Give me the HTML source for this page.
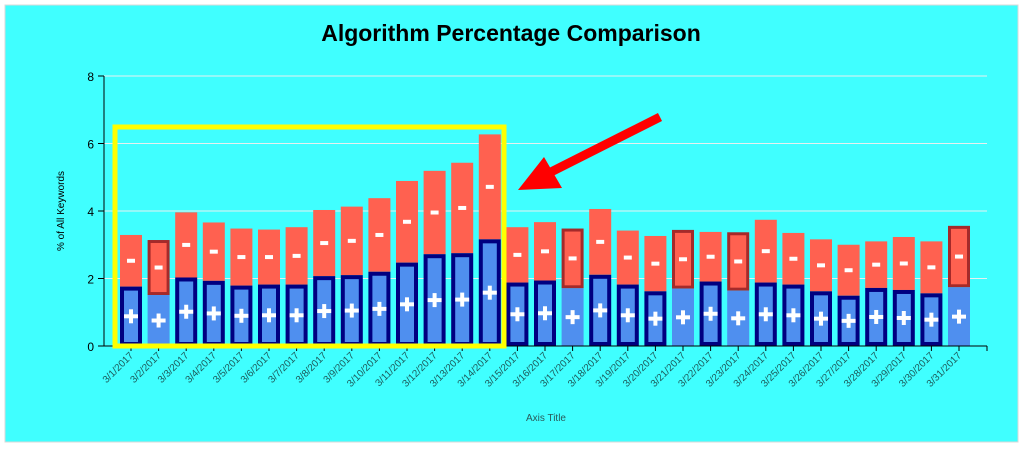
<!DOCTYPE html>
<html><head><meta charset="utf-8"><style>
html,body{margin:0;padding:0;background:#fff;width:1024px;height:449px;overflow:hidden}
svg{display:block;font-family:"Liberation Sans",sans-serif}
</style></head><body>
<svg width="1024" height="449">
<rect x="5" y="5" width="1013" height="437" fill="#40FFFF" stroke="#d8d8d8"/>
<text x="511" y="41" text-anchor="middle" font-size="23" font-weight="bold" fill="#000">Algorithm Percentage Comparison</text>
<g id="grid"></g>
<g id="bars"></g>
<g id="axes"></g>
<text transform="translate(64,211) rotate(-90)" text-anchor="middle" font-size="10" fill="#000">% of All Keywords</text>
<text x="546" y="421" text-anchor="middle" font-size="10" fill="#2a5a5a">Axis Title</text>
<rect x="115" y="127" width="389" height="219" fill="none" stroke="#FFFF00" stroke-width="5"/>
<g>
<line x1="660" y1="117" x2="545" y2="175" stroke="#FF0000" stroke-width="9" stroke-linecap="butt"/>
<polygon points="518,190 544,157 562,188" fill="#FF0000"/>
</g>
</svg>
<script>
const categories=["3/1/2017","3/2/2017","3/3/2017","3/4/2017","3/5/2017","3/6/2017","3/7/2017","3/8/2017","3/9/2017","3/10/2017","3/11/2017","3/12/2017","3/13/2017","3/14/2017","3/15/2017","3/16/2017","3/17/2017","3/18/2017","3/19/2017","3/20/2017","3/21/2017","3/22/2017","3/23/2017","3/24/2017","3/25/2017","3/26/2017","3/27/2017","3/28/2017","3/29/2017","3/30/2017","3/31/2017"];
const positiveValues=[1.76,1.51,2.03,1.93,1.79,1.82,1.82,2.07,2.1,2.2,2.47,2.72,2.75,3.16,1.88,1.94,1.71,2.11,1.82,1.62,1.70,1.91,1.64,1.88,1.82,1.62,1.49,1.72,1.66,1.56,1.74];
const negativeValues=[1.53,1.63,1.93,1.73,1.69,1.63,1.70,1.96,2.03,2.18,2.42,2.47,2.68,3.11,1.64,1.73,1.77,1.95,1.60,1.64,1.74,1.47,1.73,1.86,1.53,1.54,1.51,1.38,1.57,1.54,1.82];
const highlighted=[false,true,false,false,false,false,false,false,false,false,false,false,false,false,false,false,true,false,false,false,true,false,true,false,false,false,false,false,false,false,true];
const yTicks=[0,2,4,6,8];
const NS="http://www.w3.org/2000/svg";
const y0=346,yUnit=33.75,x0=131,band=27.6,bw=22;
const y=v=>y0-v*yUnit, x=i=>x0+i*band;
function mk(tag,attrs,parent){const e=document.createElementNS(NS,tag);for(const k in attrs)e.setAttribute(k,attrs[k]);parent.appendChild(e);return e;}
const grid=document.getElementById('grid'),bars=document.getElementById('bars'),axes=document.getElementById('axes');
yTicks.forEach(t=>{
 if(t>0){const g=mk('line',{x1:104,x2:987,y1:y(t),y2:y(t),stroke:'#e8f0f0','stroke-width':1},grid);
 
 }
 mk('line',{x1:98,x2:104,y1:y(t),y2:y(t),stroke:'#000'},axes);
 const l=mk('text',{x:94,y:y(t)+5,'text-anchor':'end','font-size':12,fill:'#000'},axes);l.textContent=t;
 
 
});
mk('line',{x1:104,x2:104,y1:y(8),y2:y0,stroke:'#000'},axes);
mk('line',{x1:98,x2:987,y1:y0,y2:y0,stroke:'#000'},axes);
categories.forEach((c,i)=>{
 const cx=x(i),p=positiveValues[i],n=negativeValues[i],h=highlighted[i];
 const g=mk('g',{},bars);
 
 
 const neg=mk('rect',{x:cx-bw/2,y:y(p+n),width:bw,height:n*yUnit,fill:'#FF6150'},g);
 if(h){neg.setAttribute('stroke','#A52A2A');neg.setAttribute('stroke-width',3);neg.setAttribute('x',cx-bw/2+1.5);neg.setAttribute('width',bw-3);neg.setAttribute('y',y(p+n)+1.5);neg.setAttribute('height',n*yUnit-3);}
 const pos=mk('rect',{x:cx-bw/2,y:y(p),width:bw,height:p*yUnit,fill:'#4F8FEF'},g);
 if(!h){pos.setAttribute('stroke','#000080');pos.setAttribute('stroke-width',4);pos.setAttribute('x',cx-bw/2+2);pos.setAttribute('width',bw-4);pos.setAttribute('y',y(p)+2);pos.setAttribute('height',p*yUnit-4);}
 const ym=y(p/2);
 mk('rect',{x:cx-7,y:ym-2,width:14,height:4,fill:'#fff'},g);
 mk('rect',{x:cx-2,y:ym-7,width:4,height:14,fill:'#fff'},g);
 mk('rect',{x:cx-4,y:y(p+n/2)-2,width:8,height:4,fill:'#fff'},g);
 mk('line',{x1:cx,x2:cx,y1:y0,y2:y0+5,stroke:'#000'},axes);
 const t=mk('text',{transform:`translate(${cx+3},${y0+10}) rotate(-45)`,'text-anchor':'end','font-size':10,fill:'#1d5c5c'},axes);
 t.textContent=c;
 
 
});
mk('line',{x1:987,x2:987,y1:y0,y2:y0+5,stroke:'#000'},axes);
</script>
</body></html>
